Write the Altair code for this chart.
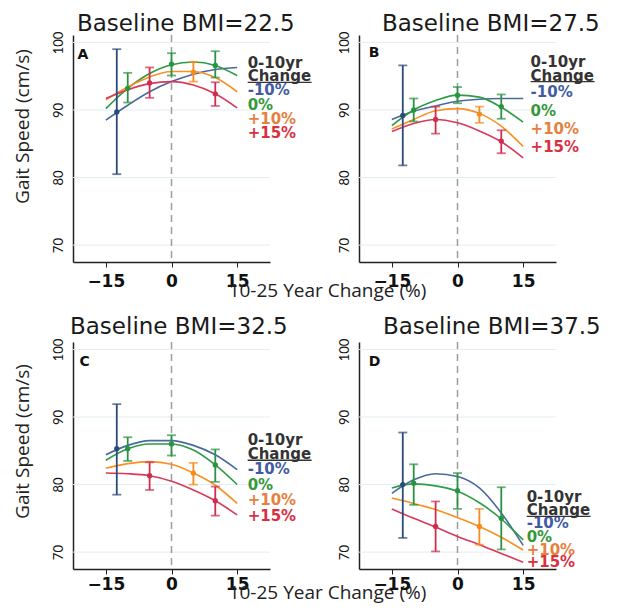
import altair as alt
import pandas as pd

# ---------------- data ----------------
CURVE_X = [-15, -10, -5, 0, 5, 10, 15]
SERIES = ["-10%", "0%", "+10%", "+15%"]

A_M10 = [88.5, 90.7, 92.7, 94.2, 95.3, 96.0, 96.3]
A_0 = [90.2, 93.2, 95.4, 96.7, 97.1, 96.6, 95.1]
A_P10 = [91.5, 93.4, 94.9, 95.7, 95.7, 94.8, 92.7]
A_P15 = [91.7, 93.0, 93.9, 94.2, 93.7, 92.4, 90.3]

B_M10 = [88.6, 89.8, 90.6, 91.3, 91.6, 91.7, 91.7]
B_0 = [87.7, 90.0, 91.4, 92.2, 91.9, 90.4, 88.2]
B_P10 = [87.2, 88.6, 89.9, 90.2, 89.5, 87.6, 84.6]
B_P15 = [86.8, 88.0, 88.6, 88.1, 86.9, 85.3, 82.9]

C_M10 = [84.4, 85.8, 86.5, 86.5, 85.8, 84.4, 82.2]
C_0 = [83.6, 85.3, 86.0, 86.0, 85.1, 82.9, 80.0]
C_P10 = [82.4, 83.1, 83.4, 83.0, 81.7, 79.9, 77.2]
C_P15 = [81.7, 81.6, 81.3, 80.5, 79.2, 77.6, 75.5]

D_M10 = [78.7, 80.7, 81.6, 81.2, 79.5, 75.8, 71.0]
D_0 = [79.5, 80.1, 79.8, 79.0, 77.3, 74.9, 71.8]
D_P10 = [78.0, 77.2, 76.3, 75.1, 73.8, 72.2, 70.3]
D_P15 = [76.4, 75.0, 73.7, 72.3, 71.1, 69.8, 68.5]

# estimates with 95% CI
PT_SERIES = ["-10%", "0%", "0%", "0%", "+10%", "+15%", "+15%"]
PT_X = [-12.5, -10, 0, 10, 5, -5, 10]

A_PT_Y = [89.7, 93.2, 96.8, 96.6, 95.6, 94.0, 92.4]
A_PT_LO = [80.5, 91.1, 95.1, 94.8, 94.2, 91.8, 90.6]
A_PT_HI = [99.0, 95.5, 98.4, 98.7, 97.1, 96.3, 94.1]

B_PT_Y = [89.2, 90.0, 92.2, 90.5, 89.4, 88.6, 85.4]
B_PT_LO = [81.8, 88.3, 91.0, 88.7, 88.1, 86.5, 83.6]
B_PT_HI = [96.6, 91.7, 93.4, 92.3, 90.5, 90.5, 87.0]

C_PT_Y = [85.3, 85.3, 86.0, 82.9, 81.7, 81.3, 77.6]
C_PT_LO = [78.5, 83.5, 84.3, 80.4, 80.0, 79.2, 75.4]
C_PT_HI = [91.9, 87.0, 87.3, 85.2, 83.2, 83.3, 79.7]

D_PT_SERIES = ["-10%", "0%", "0%", "0%", "+10%", "+15%"]
D_PT_X = [-12.5, -10, 0, 10, 5, -5]
D_PT_Y = [80.0, 80.2, 79.1, 75.0, 73.8, 73.8]
D_PT_LO = [72.1, 77.0, 76.4, 70.4, 71.1, 70.1]
D_PT_HI = [87.7, 83.0, 81.7, 79.6, 76.4, 77.5]

TITLES = ["Baseline BMI=22.5", "Baseline BMI=27.5", "Baseline BMI=32.5", "Baseline BMI=37.5"]
LETTERS = ["A", "B", "C", "D"]
LEGEND_LABELS = ["0-10yr", "Change", "-10%", "0%", "+10%", "+15%"]
GRID_VALUES = [70, 80, 90, 100]

# ---------------- styling ----------------
LINE_COLORS = {"-10%": "#4a6a9c", "0%": "#2e9b46", "+10%": "#fa8f22", "+15%": "#d8395a"}
BAR_COLORS = {"-10%": "#2b4a78", "0%": "#2a9240", "+10%": "#f78a1c", "+15%": "#cf2d4d"}
LEGEND_COLORS = ["#333333", "#333333", "#3f5ca3", "#35983a", "#e5803e", "#d9303f"]

# legend / letter placement (data units of each panel)
LEG_X = [17.4, 16.7, 17.4, 15.8]
LEG_Y = [
    [97.0, 95.0, 92.9, 90.8, 88.6, 86.6],
    [97.1, 95.1, 92.65, 89.9, 87.2, 84.5],
    [86.6, 84.5, 82.3, 79.95, 77.7, 75.4],
    [78.2, 76.2, 74.3, 72.3, 70.3, 68.6],
]
LET_X = [-21.5, -20.3, -21.0, -20.3]
LET_Y = [98.1, 98.5, 98.1, 98.1]
TITLE_DX = [4, 23, -3, 24]
TITLE_OFFSET = [-4.5, -4.5, -1, -1]

XSCALE = alt.Scale(domain=[-22.5, 22.5], nice=False, zero=False)
YSCALE = alt.Scale(domain=[67.5, 101.1], nice=False, zero=False)

curves = [[A_M10, A_0, A_P10, A_P15], [B_M10, B_0, B_P10, B_P15],
          [C_M10, C_0, C_P10, C_P15], [D_M10, D_0, D_P10, D_P15]]
points = [
    (PT_SERIES, PT_X, A_PT_Y, A_PT_LO, A_PT_HI),
    (PT_SERIES, PT_X, B_PT_Y, B_PT_LO, B_PT_HI),
    (PT_SERIES, PT_X, C_PT_Y, C_PT_LO, C_PT_HI),
    (D_PT_SERIES, D_PT_X, D_PT_Y, D_PT_LO, D_PT_HI),
]


def x_axis(col, row):
    kw = dict(values=[-15, 0, 15], grid=False, domainColor="#222222", domainWidth=1.5,
              ticks=True, tickColor="#222222", tickSize=5, tickWidth=1,
              labelFont="DejaVu Sans", labelFontSize=17, labelFontWeight="bold",
              labelColor="#111111", labelPadding=6 if row == 0 else 2,
              labelFlush=False, labelAngle=0)
    if col == 0:
        kw.update(title="10-25 Year Change (%)", titleX=254, titleY=19 if row == 0 else 14,
                  titleFont="Open Sans", titleFontSize=19, titleFontWeight="normal",
                  titleColor="#222222")
    else:
        kw["title"] = None
    return alt.Axis(**kw)


def y_axis(col, row):
    kw = dict(values=GRID_VALUES, grid=False, domainColor="#222222", domainWidth=1.5,
              ticks=False, tickSize=0, labelFont="Lato", labelFontSize=13,
              labelColor="#111111", labelAngle=270, labelAlign="center",
              labelBaseline="bottom", labelPadding=8, labelFlush=False)
    if col == 0:
        kw.update(title="Gait Speed (cm/s)", titleX=-41, titleY=91 if row == 0 else 99,
                  titleFont="Open Sans", titleFontSize=19, titleFontWeight="normal",
                  titleColor="#222222")
    else:
        kw["title"] = None
    return alt.Axis(**kw)


def panel(i):
    col, row = i % 2, i // 2
    xa, ya = x_axis(col, row), y_axis(col, row)

    def X(f):
        return alt.X(f, type="quantitative", scale=XSCALE, axis=xa)

    def Y(f):
        return alt.Y(f, type="quantitative", scale=YSCALE, axis=ya)

    grid = alt.Chart(pd.DataFrame({"y": GRID_VALUES})).mark_rule(
        color="#e3edf4", strokeWidth=1).encode(y=Y("y"))
    zero = alt.Chart(pd.DataFrame({"x": [0]})).mark_rule(
        color="#9c9c9c", strokeWidth=1.5, strokeDash=[7, 5]).encode(x=X("x"))

    rows = []
    for s, vals in zip(SERIES, curves[i]):
        for xv, yv in zip(CURVE_X, vals):
            rows.append({"series": s, "x": xv, "y": yv, "c": LINE_COLORS[s]})
    cdf = pd.DataFrame(rows)
    lines = alt.Chart(cdf).mark_line(strokeWidth=1.6, interpolate="monotone").encode(
        x=X("x"), y=Y("y"), detail="series:N",
        color=alt.Color("c:N", scale=None), order="x:Q")

    ser, px, py, lo, hi = points[i]
    pdf = pd.DataFrame({"series": ser, "x": px, "y": py, "lo": lo, "hi": hi,
                        "c": [BAR_COLORS[s] for s in ser]})
    bars = alt.Chart(pdf).mark_errorbar(ticks=True, thickness=1.8, size=9).encode(
        x=X("x"), y=Y("lo"), y2="hi:Q", color=alt.Color("c:N", scale=None))
    dots = alt.Chart(pdf).mark_circle(size=28, opacity=1).encode(
        x=X("x"), y=Y("y"), color=alt.Color("c:N", scale=None))

    ldf = pd.DataFrame({"label": LEGEND_LABELS, "x": [LEG_X[i]] * 6, "y": LEG_Y[i],
                        "c": LEGEND_COLORS})
    legend = alt.Chart(ldf).mark_text(align="left", baseline="middle", font="DejaVu Sans",
                                      fontSize=15, fontWeight="bold").encode(
        x=X("x"), y=Y("y"), text="label:N", color=alt.Color("c:N", scale=None))
    udf = pd.DataFrame({"x": [LEG_X[i]], "x2": [LEG_X[i] + 14.6], "y": [LEG_Y[i][1] - 0.9]})
    underline = alt.Chart(udf).mark_rule(color="#333333", strokeWidth=1.3).encode(
        x=X("x"), x2="x2:Q", y=Y("y"))

    tdf = pd.DataFrame({"t": [LETTERS[i]], "x": [LET_X[i]], "y": [LET_Y[i]]})
    letter = alt.Chart(tdf).mark_text(align="left", baseline="middle", font="DejaVu Sans",
                                      fontSize=14, fontWeight="bold", color="#111111").encode(
        x=X("x"), y=Y("y"), text="t:N")

    return alt.layer(grid, zero, lines, bars, dots, legend, underline, letter).properties(
        width=197, height=227,
        title=alt.TitleParams(TITLES[i], anchor="start", frame="group", dx=TITLE_DX[i],
                              offset=TITLE_OFFSET[i], font="DejaVu Sans", fontSize=23,
                              fontWeight="normal", color="#1a1a1a"))


chart = alt.concat(*[panel(i) for i in range(4)], columns=2,
                   spacing={"row": 80, "column": 89}, bounds="flush").properties(
    padding={"left": 4, "top": 4, "right": 0, "bottom": 0}
).configure_view(stroke="transparent")

chart.save("out.html", embed_options={"renderer": "svg", "actions": False})
